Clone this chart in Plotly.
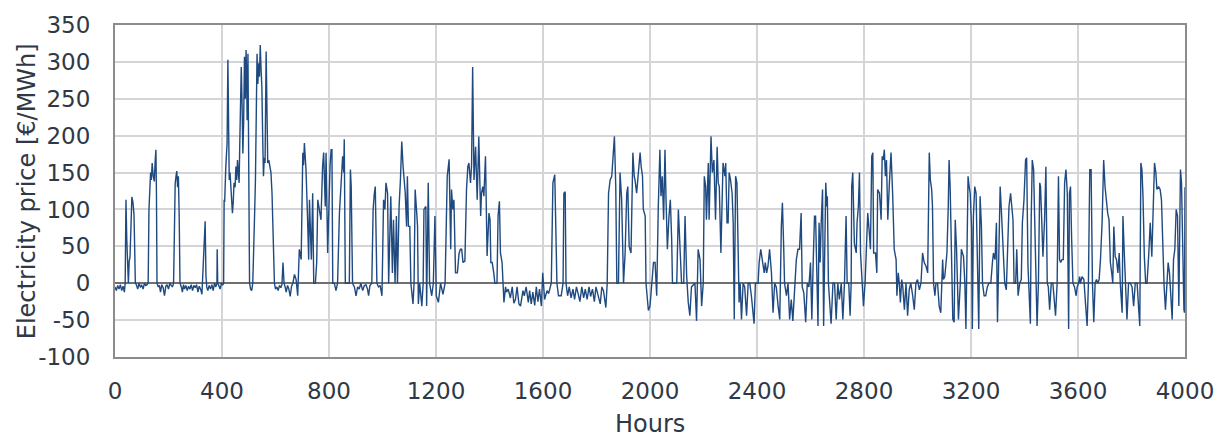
import plotly.graph_objects as go

# Hourly electricity price profile (breakpoints: hour, price in EUR/MWh)
hours = [
    0, 5, 10, 15, 20, 25, 30, 35, 38, 41, 44, 47, 50, 53, 56, 60, 63, 67, 71, 74, 76,
    80, 85, 90, 95, 100, 105, 110, 115, 120, 124, 127, 130, 133, 136, 139, 143, 147,
    150, 153, 155, 157, 162, 166, 170, 175, 180, 185, 190, 195, 200, 205, 210, 215,
    219, 222, 225, 228, 231, 234, 237, 240, 243, 248, 252, 256, 260, 265, 270, 275,
    280, 285, 290, 295, 300, 305, 310, 315, 320, 325, 329, 333, 337, 340, 343, 347,
    352, 357, 362, 367, 372, 377, 381, 382, 384, 388, 393, 398, 403, 406, 408, 410,
    414, 417, 419, 422, 424, 427, 430, 433, 436, 439, 442, 445, 449, 452, 455, 458,
    461, 464, 467, 470, 472, 475, 478, 481, 484, 487, 490, 492, 494, 497, 499, 501,
    503, 507, 511, 515, 518, 522, 525, 528, 531, 534, 537, 540, 543, 546, 549, 552,
    555, 558, 561, 565, 568, 571, 575, 579, 583, 587, 591, 596, 600, 605, 610, 615,
    620, 624, 628, 632, 636, 640, 645, 650, 655, 660, 665, 671, 677, 683, 689, 696,
    702, 705, 708, 711, 714, 720, 724, 727, 730, 734, 739, 743, 749, 754, 758, 764,
    770, 776, 780, 786, 789, 795, 799, 804, 808, 811, 814, 820, 826, 832, 839, 845,
    851, 855, 857, 861, 870, 876, 880, 883, 888, 895, 901, 907, 913, 919, 926, 932,
    938, 944, 948, 953, 960, 965, 969, 973, 979, 985, 991, 998, 1004, 1009, 1013,
    1019, 1023, 1027, 1031, 1037, 1041, 1047, 1052, 1056, 1062, 1067, 1072, 1077,
    1085, 1090, 1093, 1097, 1102, 1106, 1114, 1118, 1122, 1128, 1131, 1134, 1139,
    1147, 1152, 1155, 1162, 1165, 1169, 1171, 1176, 1184, 1190, 1196, 1201, 1209,
    1217, 1226, 1234, 1242, 1249, 1252, 1255, 1258, 1263, 1267, 1273, 1280, 1286,
    1291, 1296, 1301, 1308, 1314, 1319, 1323, 1329, 1333, 1337, 1342, 1348, 1354,
    1360, 1367, 1370, 1375, 1379, 1385, 1389, 1391, 1398, 1402, 1405, 1410, 1416,
    1420, 1428, 1432, 1437, 1441, 1447, 1451, 1454, 1460, 1464, 1470, 1478, 1485,
    1491, 1497, 1503, 1510, 1516, 1525, 1530, 1537, 1545, 1550, 1556, 1562, 1569,
    1575, 1581, 1587, 1594, 1599, 1606, 1615, 1621, 1631, 1637, 1644, 1648, 1652,
    1658, 1668, 1675, 1678, 1683, 1686, 1692, 1698, 1705, 1712, 1718, 1725, 1732,
    1738, 1745, 1752, 1758, 1765, 1772, 1778, 1785, 1792, 1798, 1804, 1814, 1820,
    1826, 1835, 1840, 1845, 1851, 1857, 1864, 1867, 1872, 1876, 1882, 1888, 1894,
    1901, 1907, 1913, 1917, 1922, 1929, 1932, 1936, 1941, 1944, 1950, 1957, 1963,
    1967, 1972, 1975, 1982, 1985, 1994, 2000, 2006, 2013, 2019, 2025, 2031, 2037,
    2041, 2046, 2051, 2056, 2060, 2065, 2071, 2076, 2081, 2084, 2091, 2100, 2106,
    2112, 2118, 2126, 2131, 2137, 2143, 2149, 2155, 2168, 2174, 2180, 2187, 2193,
    2199, 2203, 2208, 2211, 2218, 2221, 2228, 2233, 2239, 2245, 2251, 2255, 2259,
    2265, 2270, 2273, 2280, 2283, 2288, 2292, 2296, 2301, 2307, 2311, 2315, 2320,
    2325, 2329, 2333, 2337, 2342, 2348, 2354, 2361, 2367, 2373, 2379, 2389, 2394,
    2404, 2408, 2414, 2419, 2423, 2427, 2431, 2436, 2441, 2447, 2454, 2460, 2466,
    2472, 2479, 2485, 2491, 2495, 2500, 2503, 2510, 2516, 2522, 2528, 2534, 2541,
    2547, 2553, 2559, 2565, 2569, 2575, 2582, 2588, 2594, 2600, 2605, 2610, 2615,
    2619, 2623, 2628, 2632, 2636, 2640, 2645, 2649, 2653, 2657, 2661, 2663, 2667,
    2671, 2677, 2684, 2690, 2696, 2702, 2708, 2715, 2721, 2727, 2733, 2737, 2743,
    2748, 2752, 2754, 2758, 2764, 2771, 2774, 2779, 2783, 2787, 2792, 2798, 2804,
    2809, 2814, 2820, 2824, 2829, 2833, 2836, 2843, 2848, 2851, 2858, 2864, 2868,
    2872, 2876, 2880, 2884, 2889, 2895, 2901, 2907, 2913, 2920, 2923, 2928, 2932,
    2936, 2941, 2945, 2951, 2957, 2963, 2969, 2975, 2982, 2988, 2994, 3000, 3007,
    3013, 3019, 3025, 3032, 3038, 3044, 3048, 3053, 3056, 3060, 3065, 3069, 3075,
    3081, 3087, 3094, 3097, 3102, 3110, 3115, 3118, 3122, 3127, 3132, 3137, 3141,
    3146, 3150, 3153, 3160, 3164, 3172, 3177, 3181, 3184, 3189, 3193, 3197, 3202,
    3205, 3209, 3214, 3219, 3224, 3229, 3234, 3239, 3243, 3249, 3255, 3261, 3267,
    3274, 3280, 3284, 3290, 3295, 3299, 3304, 3309, 3314, 3320, 3326, 3332, 3336,
    3342, 3348, 3352, 3357, 3361, 3367, 3371, 3376, 3382, 3388, 3392, 3398, 3404,
    3408, 3413, 3418, 3422, 3425, 3429, 3434, 3438, 3443, 3447, 3452, 3457, 3460,
    3465, 3469, 3475, 3480, 3485, 3489, 3494, 3500, 3506, 3510, 3516, 3522, 3527,
    3531, 3535, 3540, 3545, 3550, 3555, 3560, 3565, 3568, 3572, 3576, 3581, 3587,
    3593, 3597, 3602, 3606, 3609, 3615, 3622, 3628, 3634, 3639, 3644, 3649, 3654,
    3659, 3664, 3669, 3674, 3679, 3684, 3690, 3696, 3701, 3706, 3711, 3716, 3721,
    3726, 3730, 3734, 3739, 3744, 3749, 3754, 3758, 3765, 3768, 3773, 3778, 3783,
    3789, 3796, 3802, 3808, 3814, 3821, 3827, 3831, 3835, 3839, 3843, 3848, 3853,
    3858, 3864, 3870, 3876, 3883, 3886, 3891, 3895, 3901, 3907, 3912, 3917, 3922,
    3927, 3932, 3937, 3942, 3947, 3952, 3957, 3962, 3967, 3972, 3977, 3980, 3983,
    3987, 3991, 3996, 3998, 4000,
]

price = [
    -5, -10, -3, -8, -2, -10, -4, -12, 0, 113, 60, 20, 0, 30, 35, 80, 117, 110, 93, 40, 0,
    -2, -8, 0, -5, -3, -8, 0, -3, -2, 0, 100, 134, 150, 140, 163, 145, 138,
    165, 181, 120, 0, -5, -3, -12, -2, -6, -17, -4, -2, -8, 0, -3, -5,
    0, 122, 135, 145, 152, 130, 145, 90, 0, -5, -12, -2, -8, -3, -10, -4,
    -8, -2, -10, -3, -6, -2, -12, -4, -8, -15, 20, 50, 84, 10, -5, -10,
    -3, -8, -2, -10, 0, -5, 0, 46, 0, -3, -8, 0, -2, 0, 113, 110,
    156, 170, 190, 303, 190, 140, 150, 131, 120, 95, 110, 136, 130, 158, 140, 167,
    150, 136, 200, 260, 293, 244, 176, 220, 307, 250, 316, 280, 221, 311, 200, 77,
    0, -8, -10, 0, 30, 95, 140, 200, 311, 270, 298, 280, 323, 290, 266, 200,
    145, 170, 163, 314, 220, 163, 167, 154, 150, 122, 60, 0, -8, -5, -10, -3,
    -6, -2, 28, 0, -5, -12, -3, -8, -18, -4, 0, 12, 5, -17, 46, 32,
    177, 160, 190, 170, 154, 86, 32, 113, 86, 32, 122, 0, 0, 28, 113, 100,
    86, 158, 177, 104, 177, 41, 113, 160, 181, 181, 0, 0, -10, 0, 95, 136,
    172, 150, 195, 0, 0, 0, 154, 131, 0, -5, -17, -5, -8, 0, -10, -3,
    -2, -8, -17, -3, 0, 100, 120, 131, 0, -5, -3, -17, 113, 100, 136,
    122, 0, 50, 118, 14, 86, 0, 91, 0, 104, 140, 192, 158,
    122, 77, 145, 77, 77, 0, -28, 0, 127, 95, 77, -28, 0,
    -31, 0, 100, 104, -31, 80, 136, 0, -17, 0, 91, -17, -26,
    0, -15, 0, 145, 168, 100, 46, 127, 100, 113, 14, 14, 40,
    46, 46, 28, 30, 127, 158, 163, 136, 160, 293, 140, 185, 113,
    199, 91, 122, 131, 118, 172, 95, 37, 95, 86, 28, 28, 14,
    0, 0, 91, 111, 41, 28, 0, -26, -5, -12, -8, -20, -5,
    -27, -22, -5, -28, -31, -10, -17, -5, -26, -10, -28, -12, -30,
    -5, -25, -8, -31, 14, -22, -10, -14, 0, 136, 147, 86, 0,
    -17, -17, 0, 122, 124, 0, -17, -5, -20, -8, -22, -5, -15,
    -25, -5, -20, -8, -22, -5, -18, -8, -25, -5, -15, -28, -5,
    -10, -33, 0, 122, 140, 145, 185, 199, 131, 0, 0, 150, 113,
    0, 41, 122, 131, 50, 41, 86, 177, 145, 140, 122, 154, 177,
    158, 145, 100, 91, 0, -37, -31, 0, 28, 28, -17, 104, 181,
    118, 145, 86, 181, 113, 46, 91, 113, 60, 0, 0, 0, 100,
    46, 0, 0, 91, 10, -26, -44, -5, 0, -51, 46, 32, -31,
    0, 145, 131, 86, 163, 86, 199, 150, 167, 86, 185, 136, 131,
    41, 140, 163, 145, 163, 82, 82, 150, 140, 122, 82, -49, 145,
    136, 41, -26, 0, -49, 0, -5, -44, 0, 0, -17, -55, 0,
    0, 28, 46, 32, 28, 14, 28, 14, 23, 46, 14, -40, 0,
    -5, -31, -49, 77, 109, 46, 0, -17, 0, -49, -22, -51, 0,
    32, 46, 46, 95, -5, -13, -53, 0, -5, 28, -49, 28, 91,
    91, 32, -58, 82, 28, 82, 127, -58, 91, 136, 104, 118, 0,
    -20, -55, 0, 0, -49, 0, -22, 0, -49, 0, 91, 0, 0,
    -44, 0, 131, 150, 54, 41, 82, 104, 150, 41, 0, -31, 0,
    46, 95, 68, 46, 172, 177, 41, 41, 14, 127, 122, 86, 172,
    167, 181, 145, 167, 86, 136, 177, 122, 46, 32, -17, 14, 0,
    -26, 5, -5, -36, 0, -44, -9, 0, -17, -36, 0, 5, -9,
    0, 41, 28, 23, 14, 177, 140, 127, 104, 0, -17, 0, 0,
    -31, -40, 32, 5, 9, 41, 104, 167, 131, 32, -49, -53, 86,
    46, 0, -49, 0, 46, 36, 0, -62, 0, 145, 131, 122, 77,
    -62, 91, 131, 122, 0, -62, 118, 77, 0, -17, -17, -5, 0,
    0, 28, 41, 32, 82, -53, 41, 131, 95, 41, 0, -9, 32,
    104, 122, 104, 86, 0, 0, 46, -17, 0, 5, 82, 113, 167,
    170, 23, -26, -55, 86, 167, 154, 86, 0, -58, 0, 136, 131,
    86, 36, 86, 158, 0, -5, -36, 0, 0, -17, -44, 0, 145,
    32, 28, 32, 32, 136, 154, 122, -62, 122, 131, 63, 0, -5,
    -17, -5, 0, 9, 0, 9, 5, -27, -58, 0, 154, 154, 0,
    -53, 0, 5, 0, 5, 32, 82, 167, 131, 109, 95, 86, 28,
    14, 0, 77, 36, 32, 14, 41, 0, -40, 91, 41, 0, -49,
    0, 0, -5, -31, 0, 0, -36, -58, 163, 154, 118, 36, 0,
    0, 36, 82, 36, 145, 163, 150, 127, 131, 127, 113, 32, -5,
    -36, 0, 28, 14, -26, -49, 32, 46, 100, 91, -31, 100, 154,
    136, 32, -36, -40, 130,
]

x_ticks = list(range(0, 4001, 400))
y_ticks = list(range(-100, 351, 50))

font_family = "DejaVu Sans"
text_color = "#2f3846"

fig = go.Figure()
fig.add_trace(go.Scatter(
    x=hours, y=price, mode="lines",
    line=dict(color="#1f4a80", width=1.4),
    hoverinfo="x+y", showlegend=False,
))

fig.update_layout(
    width=1226, height=438,
    margin=dict(l=115, r=38, t=25, b=81),
    paper_bgcolor="white", plot_bgcolor="white",
    font=dict(family=font_family, size=23, color=text_color),
    annotations=[
        dict(text="Hours", xref="paper", yref="paper", x=0.5, y=-0.2018,
             xanchor="center", yanchor="middle", showarrow=False,
             font=dict(size=24, color=text_color, family=font_family)),
        dict(text="Electricity price [€/MWh]", xref="paper", yref="paper",
             x=-0.082, y=0.5, textangle=-90, xanchor="center", yanchor="middle",
             showarrow=False,
             font=dict(size=24, color=text_color, family=font_family)),
    ],
)
fig.update_xaxes(
    range=[0, 4000], tickvals=x_ticks, ticktext=[str(v) for v in x_ticks],
    showgrid=True, gridcolor="#d4d4d9", gridwidth=2,
    showline=True, linecolor="#8c8c8c", linewidth=2, mirror=True,
    zeroline=False, ticks="", ticklabelstandoff=12,
)
fig.update_yaxes(
    range=[-100, 350], tickvals=y_ticks, ticktext=[str(v) for v in y_ticks],
    showgrid=True, gridcolor="#d4d4d9", gridwidth=2,
    showline=True, linecolor="#8c8c8c", linewidth=2, mirror=True,
    zeroline=True, zerolinecolor="#707070", zerolinewidth=2,
    ticks="", ticklabelstandoff=18,
)

fig.write_html("out.html")
